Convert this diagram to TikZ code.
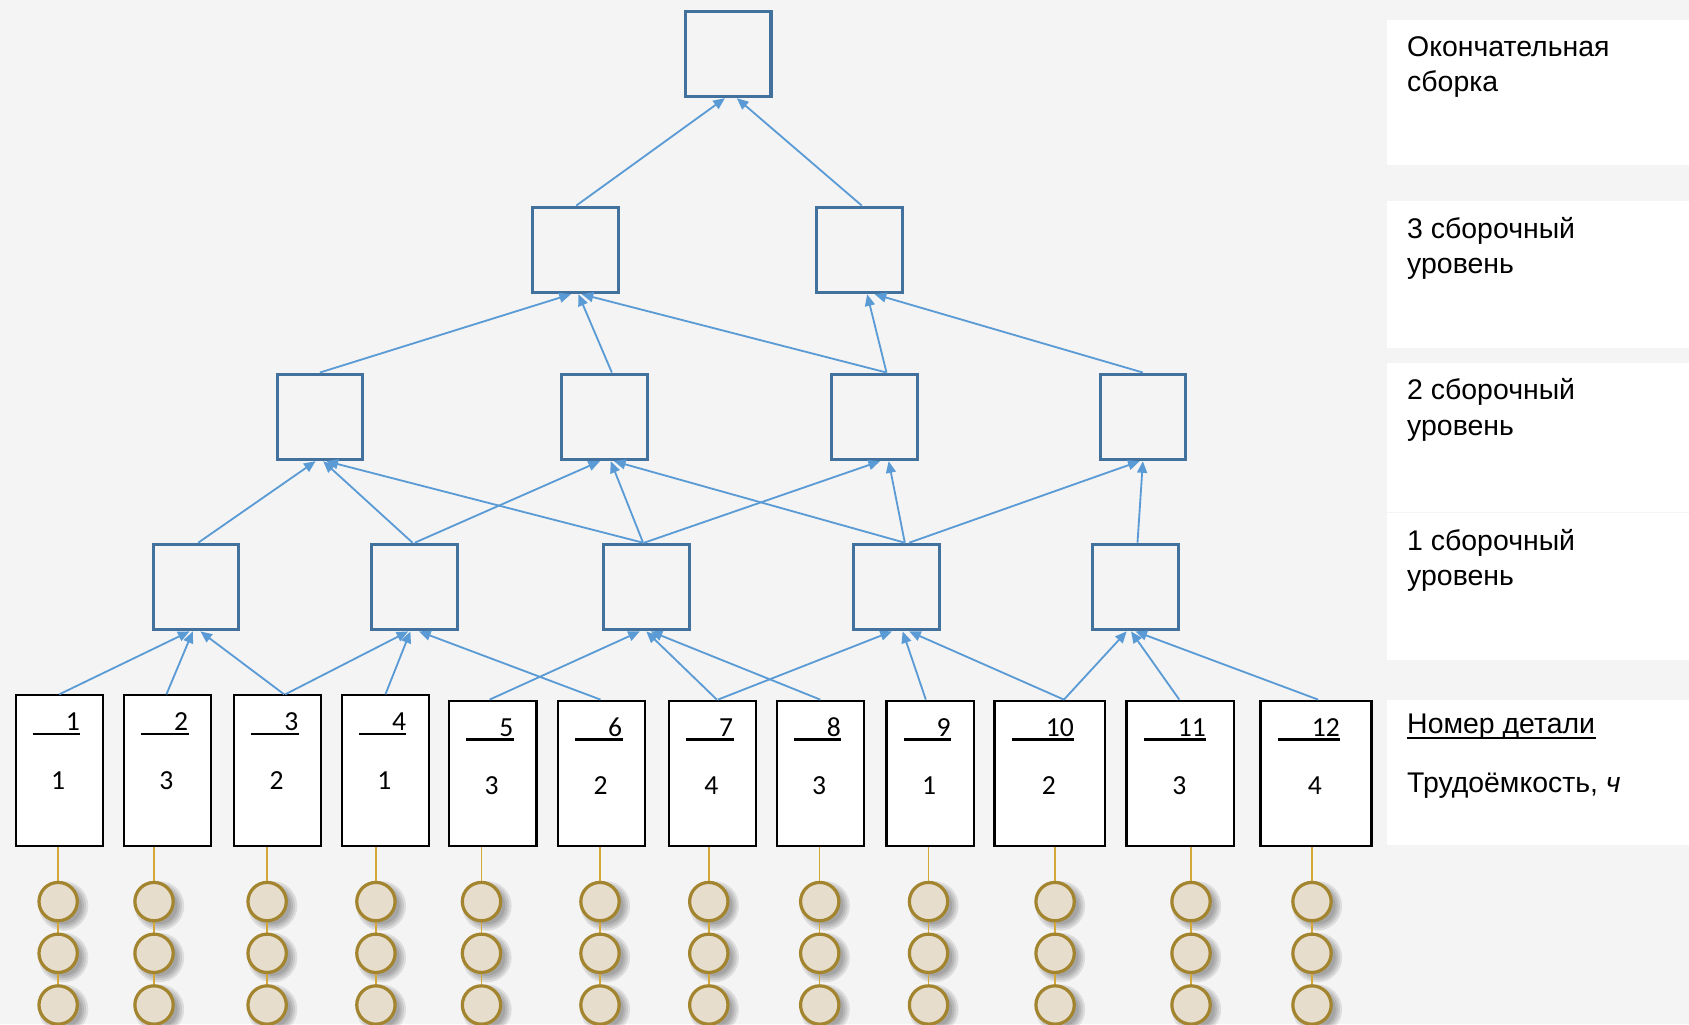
\documentclass[tikz,border=0pt]{standalone}
\usepackage{fontspec}
\setmainfont{Liberation Sans}
\newfontfamily\calibri{Carlito}
\usetikzlibrary{arrows.meta,calc}
\definecolor{bggray}{HTML}{F4F4F4}
\definecolor{boxblue}{HTML}{41719C}
\definecolor{arrowblue}{HTML}{5B9BD5}
\definecolor{beadfill}{HTML}{E6DDCC}
\definecolor{beadline}{HTML}{A3852F}
\definecolor{goldln}{HTML}{D4A838}
\begin{document}
\begin{tikzpicture}[x=0.5pt,y=-0.5pt,
  bluebox/.style={draw=boxblue, line width=1.4pt, minimum size=39.75pt, inner sep=0pt},
  partbox/.style={draw=black, fill=white, line width=1pt, inner sep=0pt, anchor=north west},
  numtxt/.style={font=\calibri\fontsize{12.8}{15}\selectfont, inner sep=0pt},
  lbl/.style={font=\fontsize{13.2}{17}\selectfont, inner sep=0pt, anchor=base west},
  arr/.style={draw=arrowblue, line width=0.85pt, -{Triangle[length=5.4pt,width=4.6pt]}},
  goldline/.style={draw=goldln, line width=0.7pt},
  bead/.style={circle, draw=beadline, fill=beadfill, line width=1.5pt, minimum size=17.8pt, inner sep=0pt},
  panel/.style={fill=white}]
\useasboundingbox (0,0) rectangle (1568,951);
\fill[bggray] (0,0) rectangle (1568,951);
% right panels
\fill[panel] (1288,18.6) rectangle (1568,153);
\fill[panel] (1288,187) rectangle (1568,323);
\fill[panel] (1288,337) rectangle (1568,475);
\fill[panel] (1288,476) rectangle (1568,613);
\fill[panel] (1288,650) rectangle (1568,784.5);
% labels
\node[lbl] (la1) at (1306,52) {Окончательная};
\node[lbl] (la2) at (1306,85) {сборка};
\node[lbl] (lb1) at (1306,221) {3 сборочный};
\node[lbl] (lb2) at (1306,254) {уровень};
\node[lbl] (lc1) at (1306,371) {2 сборочный};
\node[lbl] (lc2) at (1306,404) {уровень};
\node[lbl] (ld1) at (1306,511) {1 сборочный};
\node[lbl] (ld2) at (1306,544) {уровень};
\node[lbl] (le1) at (1306,681) {Номер детали};
\draw[line width=0.9pt] ($(le1.base west)+(0,4)$) -- ($(le1.base east)+(0,4)$);
\node[lbl] (le2) at (1306,736) {Трудоёмкость, \textit{ч}};
% blue boxes
\node[bluebox] (T) at (676,50) {};
\node[bluebox] (L3a) at (534,232) {};
\node[bluebox] (L3b) at (798,232) {};
\node[bluebox] (L2a) at (297,387) {};
\node[bluebox] (L2b) at (561,387) {};
\node[bluebox] (L2c) at (812,387) {};
\node[bluebox] (L2d) at (1061,387) {};
\node[bluebox] (L1a) at (182,545) {};
\node[bluebox] (L1b) at (385,545) {};
\node[bluebox] (L1c) at (600,545) {};
\node[bluebox] (L1d) at (832,545) {};
\node[bluebox] (L1e) at (1054,545) {};
% part boxes
\foreach \n/\l/\t/\w/\a/\b/\u in {1/13.5/644.6/81/1/1/44, 2/114/644.6/81/2/3/44,
   3/216.3/644.6/81/3/2/44, 4/316.3/644.6/81/4/1/44, 5/416/649.5/81/5/3/44,
   6/517/649.5/81/6/2/44, 7/620/649.5/81/7/4/44, 8/720/649.5/81/8/3/44,
   9/822/649.5/81/9/1/44, 10/922.2/649.5/103/10/2/58, 11/1044.8/649.5/100/11/3/58,
   12/1169.2/649.5/103/12/4/58}{
  \node[partbox, minimum width=\w*0.5pt, minimum height={(784-\t)*0.5pt}] (P\n) at (\l,\t) {};
  \node[numtxt, anchor=base east] (N\n) at (\l+17+\u,\t+34) {\a};
  \draw[line width=1.1pt] ($(P\n.north west)+(17,37)$) -- ($(P\n.north west)+(17+\u,37)$);
  \node[numtxt] (H\n) at (\l+\w/2,\t+80) {\b};
}
% connectors
\newcommand\conn[4]{\draw[arr] ($(#1.north)+(#2,0)$) -- ($(#3.south)+(#4,0)$);}
\conn{L3a}{1}{T}{-3}
\conn{L3b}{2}{T}{8}
\conn{L2a}{0}{L3a}{-4}
\conn{L2b}{7}{L3a}{3}
\conn{L2c}{11}{L3a}{6}
\conn{L2c}{11}{L3b}{7}
\conn{L2d}{0}{L3b}{14}
\conn{L1a}{2}{L2a}{-4}
\conn{L1b}{-2}{L2a}{3}
\conn{L1c}{-3}{L2a}{6}
\conn{L1b}{0}{L2b}{-4}
\conn{L1c}{-3}{L2b}{6}
\conn{L1d}{8}{L2b}{9}
\conn{L1c}{-2}{L2c}{5}
\conn{L1d}{8}{L2c}{13}
\conn{L1d}{12}{L2d}{-3}
\conn{L1e}{2}{L2d}{0}
\conn{P1}{0}{L1a}{-6}
\conn{P2}{-1}{L1a}{-3}
\conn{P3}{6}{L1a}{4}
\conn{P3}{7}{L1b}{-6}
\conn{P4}{0}{L1b}{-4}
\conn{P6}{-1}{L1b}{4}
\conn{P5}{-3}{L1c}{-6}
\conn{P7}{4}{L1c}{0}
\conn{P8}{0}{L1c}{4}
\conn{P7}{5}{L1d}{-4}
\conn{P9}{-4}{L1d}{6}
\conn{P10}{13}{L1d}{12}
\conn{P10}{13}{L1e}{-8}
\conn{P11}{-1}{L1e}{-4}
\conn{P12}{2}{L1e}{0}
% beads
\foreach \n/\x in {1/54, 2/143, 3/248, 4/349, 5/447, 6/557, 7/658, 8/761, 9/862, 10/979.5, 11/1105.7, 12/1218}{
  \coordinate (B\n a) at (\x,837);
  \coordinate (B\n b) at (\x,885);
  \coordinate (B\n c) at (\x,933);
  \foreach \k in {a,b,c}{
    \foreach \r in {17,19,21,23}{
      \fill[black,opacity=0.09] ($(B\n\k)+(5,4)$) circle (\r);
    }
  }
  \draw[goldline] (B\n a |- P\n.south) -- (B\n c);
  \foreach \k in {a,b,c}{
    \node[bead] (C\n\k) at (B\n\k) {};
  }
}
\end{tikzpicture}
\end{document}
